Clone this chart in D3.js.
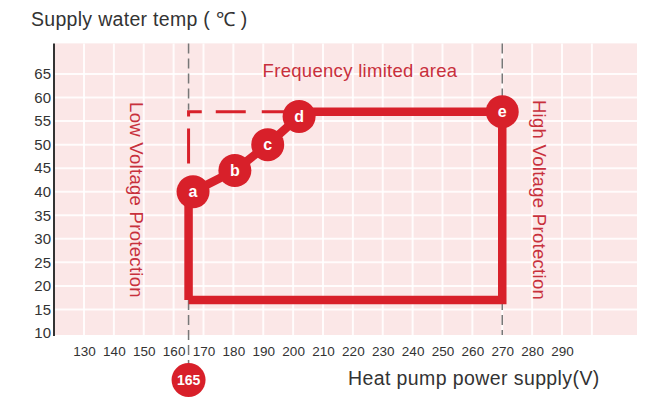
<!DOCTYPE html>
<html>
<head>
<meta charset="utf-8">
<script src="https://cdn.jsdelivr.net/npm/d3@7"></script>
<style>
  body { margin: 0; background: #fff; }
  svg { display: block; font-family: "Liberation Sans", Arial, sans-serif; }
</style>
</head>
<body>
<svg id="chart" width="658" height="398"></svg>
<script>
// x axis: heat pump supply voltage (V)
const xTicks = [130, 140, 150, 160, 170, 180, 190, 200, 210, 220, 230, 240, 250, 260, 270, 280, 290];
const xGrid = [130, 140, 150, 160, 170, 180, 190, 200, 210, 220, 230, 240, 250, 260, 270, 280, 290, 300];
// y axis: supply water temp (C)
const yTicks = [10, 15, 20, 25, 30, 35, 40, 45, 50, 55, 60, 65];

// operating points a..e  [voltage, temp]
const pointLabels = ['a', 'b', 'c', 'd', 'e'];
const pointVolts = [166.5, 180.5, 191.5, 202, 270];
const pointTemps = [40, 44.5, 50, 56, 57];

// outline of the operating envelope
const envelope = [[165, 17], [165, 39], [166.5, 40], [180.5, 44.5], [191.5, 50], [202, 56], [206, 57], [270, 57], [270, 17], [165, 17]];
// frequency limited corner (dashed)
const limitLine = [[165, 46], [165, 57], [200, 57]];

const lowVolt = 165;
const highVolt = 270;
const minTemp = 17;
const topTemp = 71.5;

const svg = d3.select('#chart');
const red = '#d8202a';
const textRed = '#c8303c';

let x = d3.scaleLinear().domain([130, 290]).range([84, 562]);
let y = d3.scaleLinear().domain([10, 65]).range([333, 74]);

const plotLeft = 55, plotRight = 637, plotTop = y(topTemp), plotBottom = 335;

// pink plot background
svg.append('rect')
    .attr('x', plotLeft).attr('y', plotTop)
    .attr('width', plotRight - plotLeft).attr('height', plotBottom - plotTop)
    .attr('fill', '#fbe7e7');

// grid
svg.append('g').selectAll('line')
    .data(xGrid).enter().append('line')
    .attr('x1', d => x(d)).attr('x2', d => x(d))
    .attr('y1', plotTop).attr('y2', plotBottom)
    .attr('stroke', '#fff').attr('stroke-opacity', 0.85).attr('stroke-width', 2);

svg.append('g').selectAll('line')
    .data(yTicks.slice(1)).enter().append('line')
    .attr('x1', plotLeft).attr('x2', plotRight)
    .attr('y1', d => y(d)).attr('y2', d => y(d))
    .attr('stroke', '#fff').attr('stroke-opacity', 0.85).attr('stroke-width', 2);

// y axis
let yAxis = svg.append('g')
    .attr('transform', 'translate(54,0)')
    .call(d3.axisLeft(y).tickValues(yTicks).tickSize(0).tickPadding(3));
yAxis.select('.domain').attr('d', 'M0,' + plotTop + 'V' + (plotBottom + 1)).attr('stroke', '#333').attr('stroke-width', 2);
yAxis.selectAll('text').attr('font-size', 15).attr('fill', '#333').attr('font-family', null);

// x axis
let xAxis = svg.append('g')
    .attr('transform', 'translate(0,' + (plotBottom + 5) + ')')
    .call(d3.axisBottom(x).tickValues(xTicks).tickSize(0).tickPadding(6));
xAxis.select('.domain').remove();
xAxis.selectAll('text').attr('font-size', 13.5).attr('fill', '#333').attr('font-family', null);

// gray dashed voltage limits
const gray = '#777';
svg.append('line')
    .attr('x1', x(lowVolt)).attr('x2', x(lowVolt))
    .attr('y1', plotTop).attr('y2', y(57) - 2)
    .attr('stroke', gray).attr('stroke-width', 1.5).attr('stroke-dasharray', '10,5');
svg.append('line')
    .attr('x1', x(lowVolt)).attr('x2', x(lowVolt))
    .attr('y1', y(minTemp)).attr('y2', 366)
    .attr('stroke', gray).attr('stroke-width', 1.5).attr('stroke-dasharray', '10,5');
svg.append('line')
    .attr('x1', x(highVolt)).attr('x2', x(highVolt))
    .attr('y1', plotTop).attr('y2', y(57))
    .attr('stroke', gray).attr('stroke-width', 1.5).attr('stroke-dasharray', '10,5');
svg.append('line')
    .attr('x1', x(highVolt)).attr('x2', x(highVolt))
    .attr('y1', y(minTemp)).attr('y2', plotBottom)
    .attr('stroke', gray).attr('stroke-width', 1.5).attr('stroke-dasharray', '10,5');

// red dashed frequency limit
let line = d3.line().x(d => x(d[0])).y(d => y(d[1]));
svg.append('path')
    .attr('d', line(limitLine))
    .attr('fill', 'none').attr('stroke', red).attr('stroke-width', 3)
    .attr('stroke-dasharray', '35,12,18,14,30,16');

// operating envelope
svg.append('path')
    .attr('d', line(envelope))
    .attr('fill', 'none').attr('stroke', red).attr('stroke-width', 8.5)
    .attr('stroke-linejoin', 'miter');

// points
let pts = svg.append('g').selectAll('g')
    .data(pointLabels).enter().append('g')
    .attr('transform', (d, i) => 'translate(' + x(pointVolts[i]) + ',' + y(pointTemps[i]) + ')');
pts.append('circle').attr('r', 16.5).attr('fill', red);
pts.append('text')
    .attr('text-anchor', 'middle').attr('dy', '0.36em')
    .attr('font-size', 16).attr('font-weight', 'bold').attr('fill', '#fff')
    .text(d => d);

// 165 marker below the axis
let mark = svg.append('g').attr('transform', 'translate(' + x(lowVolt) + ',380)');
mark.append('circle').attr('r', 17).attr('fill', red);
mark.append('text')
    .attr('text-anchor', 'middle').attr('dy', '0.36em')
    .attr('font-size', 14).attr('font-weight', 'bold').attr('fill', '#fff')
    .text(lowVolt);

// area labels
svg.append('text')
    .attr('x', 360).attr('y', 77)
    .attr('text-anchor', 'middle').attr('font-size', 18.5).attr('letter-spacing', 0.3).attr('fill', textRed)
    .text('Frequency limited area');

svg.append('text')
    .attr('transform', 'translate(130,200) rotate(90)')
    .attr('text-anchor', 'middle').attr('font-size', 18.5).attr('letter-spacing', 0.3).attr('fill', textRed)
    .text('Low Voltage Protection');

svg.append('text')
    .attr('transform', 'translate(533,200) rotate(90)')
    .attr('text-anchor', 'middle').attr('font-size', 18.5).attr('letter-spacing', 0.3).attr('fill', textRed)
    .text('High Voltage Protection');

// axis titles
svg.append('text')
    .attr('x', 31).attr('y', 26)
    .attr('font-size', 19.5).attr('letter-spacing', 0.3).attr('fill', '#333')
    .text('Supply water temp\u00a0(\u00a0\u2103\u00a0)');

svg.append('text')
    .attr('x', 348).attr('y', 385)
    .attr('font-size', 19.5).attr('letter-spacing', 0.4).attr('fill', '#333')
    .text('Heat pump power supply(V)');
</script>
</body>
</html>
